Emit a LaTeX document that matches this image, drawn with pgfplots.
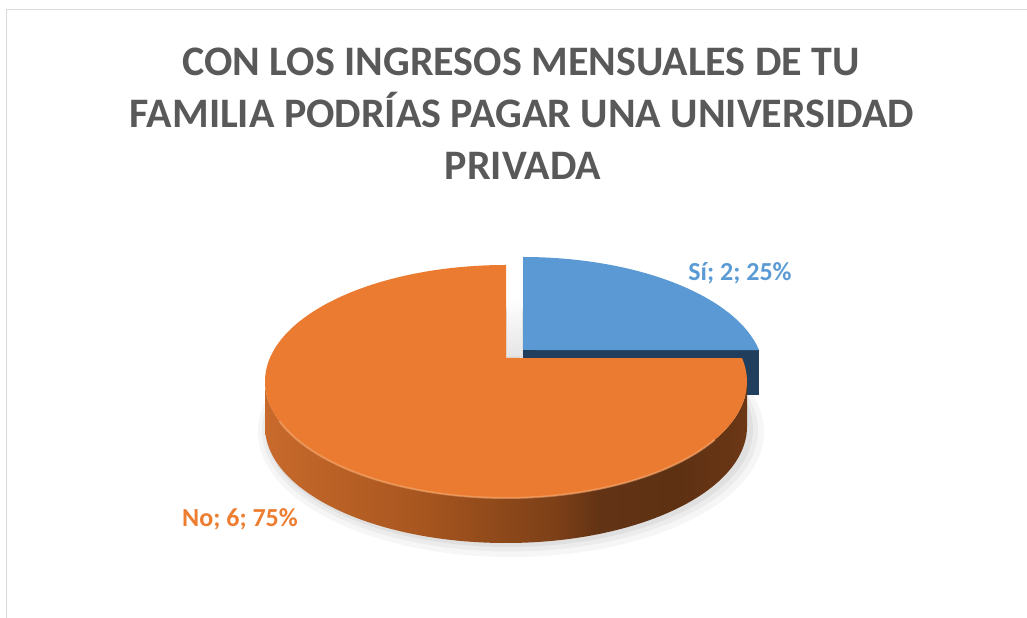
\documentclass[border=0pt]{standalone}
\usepackage{fontspec}
\setmainfont{Carlito}
\usepackage{pgfplots}
\usepackage{pgfplotstable}
\pgfplotsset{compat=1.18}

\definecolor{titlegray}{HTML}{595959}
\definecolor{frameGray}{HTML}{D9D9D9}
\definecolor{blueTop}{HTML}{5A99D4}
\definecolor{blueDark}{HTML}{213F5C}
\definecolor{blueLabel}{HTML}{5B9BD5}
\definecolor{orangeTop}{HTML}{EA7B30}
\definecolor{orangeLabel}{HTML}{ED7D31}
\definecolor{rimLight}{HTML}{F6A66C}
\definecolor{osA}{HTML}{C86A2C}
\definecolor{osB}{HTML}{A8561F}
\definecolor{osC}{HTML}{7B3F17}
\definecolor{osD}{HTML}{633315}
\definecolor{osE}{HTML}{5E3113}
\definecolor{osF}{HTML}{6C3715}

\pgfdeclarehorizontalshading{orangeside}{100bp}{color(0bp)=(osA); color(25bp)=(osA); color(41bp)=(osB); color(55.5bp)=(osC); color(59.5bp)=(osD); color(68bp)=(osE); color(75bp)=(osF); color(100bp)=(osF)}

% slice data
\pgfplotstableread{
label value
Si 2
No 6
}\piedata

\begin{document}
\begin{tikzpicture}
\pgfplotstablegetelem{0}{value}\of\piedata \let\va\pgfplotsretval
\pgfplotstablegetelem{1}{value}\of\piedata \let\vb\pgfplotsretval
\pgfmathtruncatemacro\pa{round(100*\va/(\va+\vb))}
\pgfmathtruncatemacro\pb{round(100*\vb/(\va+\vb))}
\begin{axis}[
  width=1027bp, height=618bp, scale only axis,
  xmin=0, xmax=1027, ymin=0, ymax=618,
  hide axis, clip=false]
\coordinate (bl) at (0,0);
\coordinate (tr) at (1027,618);
% frame
\draw[frameGray, line width=1.5bp] (6.5,0) -- (6.5,608.5) -- (1027,608.5);
% title
\node[anchor=base, text=titlegray, font=\fontsize{42bp}{50bp}\selectfont\bfseries] at (521,542) {CON LOS INGRESOS MENSUALES DE TU};
\node[anchor=base, text=titlegray, font=\fontsize{42bp}{50bp}\selectfont\bfseries] at (522,490) {FAMILIA PODRÍAS PAGAR UNA UNIVERSIDAD};
\node[anchor=base, text=titlegray, font=\fontsize{42bp}{50bp}\selectfont\bfseries] at (523,438) {PRIVADA};
% soft shadow
\fill[black, opacity=0.035] (511,186) ellipse [x radius=253, y radius=125];
\fill[black, opacity=0.04] (510,187.5) ellipse [x radius=248, y radius=121];
\fill[black, opacity=0.05] (509,189) ellipse [x radius=244, y radius=118];
% gap shadow
\shade[bottom color=black!10, top color=white] (507,262) rectangle (522,320);
% blue slice (exploded)
\fill[blueDark] (523,268) -- (759,268) -- (759,223) -- (523,223) -- cycle;
\fill[blueTop] (523,268) -- (523,361) arc[start angle=90, end angle=11.6, x radius=241, y radius=116.5] -- cycle;
% orange slice
\shade[shading=orangeside] (265,236.5) arc[start angle=180, end angle=360, x radius=241, y radius=116.5] -- (747,191.5) arc[start angle=0, end angle=-180, x radius=241, y radius=116.5] -- cycle;
\fill[orangeTop] (506,260) -- (506,353) arc[start angle=90, end angle=371.6, x radius=241, y radius=116.5] -- cycle;
\draw[rimLight, line width=2bp, opacity=0.6] (279.5,196.7) arc[start angle=200, end angle=330, x radius=241, y radius=116.5];
% labels
\node[anchor=base, text=blueLabel, font=\fontsize{26bp}{30bp}\selectfont\bfseries] at (740,337) {Sí; \va; \pa\%};
\node[anchor=base, text=orangeLabel, font=\fontsize{26bp}{30bp}\selectfont\bfseries] at (240,91) {No; \vb; \pb\%};
\end{axis}
\pgfresetboundingbox
\path (bl) rectangle (tr);
\end{tikzpicture}
\end{document}
